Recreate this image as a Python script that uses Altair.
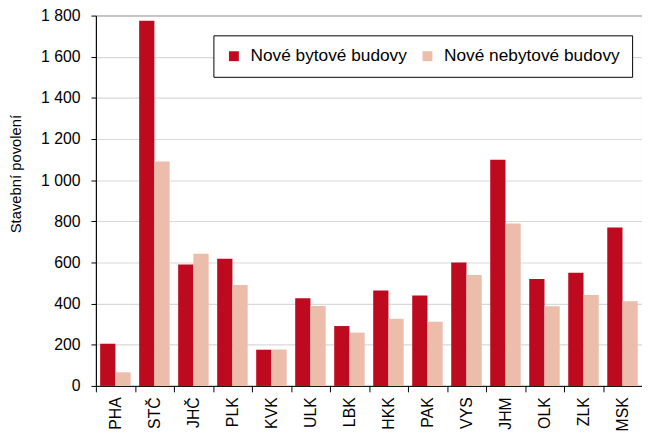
import altair as alt
import pandas as pd

kraje = ["PHA", "STČ", "JHČ", "PLK", "KVK", "ULK", "LBK", "HKK", "PAK", "VYS", "JHM", "OLK", "ZLK", "MSK"]
bytove = [205, 1775, 590, 618, 176, 426, 291, 464, 440, 600, 1099, 520, 550, 770]
nebytove = [66, 1091, 643, 490, 177, 389, 259, 326, 312, 539, 790, 387, 442, 411]
serie = ["Nové bytové budovy", "Nové nebytové budovy"]
barvy = ["#BE0A1E", "#EBBDAA"]
y_ticks = [0, 200, 400, 600, 800, 1000, 1200, 1400, 1600, 1800]

rows = []
for k, b, n in zip(kraje, bytove, nebytove):
    rows.append({"kraj": k, "serie": serie[0], "hodnota": b})
    rows.append({"kraj": k, "serie": serie[1], "hodnota": n})
df = pd.DataFrame(rows)

FONT = "Liberation Sans"

chart = alt.Chart(df).mark_bar().encode(
    x=alt.X(
        "kraj:N",
        sort=kraje,
        scale=alt.Scale(paddingInner=0, paddingOuter=0),
        axis=alt.Axis(
            title=None,
            labelAngle=-90,
            tickBand="extent",
            tickSize=6,
            labelPadding=5,
            labelFontSize=16,
            labelColor="black",
            domainColor="black",
            tickColor="black",
            grid=False,
        ),
    ),
    xOffset=alt.XOffset("serie:N", sort=serie, scale=alt.Scale(paddingInner=0, paddingOuter=0.28)),
    y=alt.Y(
        "hodnota:Q",
        scale=alt.Scale(domain=[0, 1800], nice=False),
        axis=alt.Axis(
            values=y_ticks,
            title="Stavební povolení",
            titleFontSize=15,
            titleFontWeight="normal",
            titleColor="black",
            titleX=-81,
            titleY=160,
            titleAlign="center",
            titleBaseline="middle",
            labelExpr="replace(format(datum.value, ',d'), ',', ' ')",
            labelFontSize=16,
            labelColor="black",
            labelPadding=11,
            tickSize=5,
            tickColor="black",
            domainColor="black",
            gridColor="#D9D9D9",
            gridWidth=1.2,
        ),
    ),
    color=alt.Color(
        "serie:N",
        sort=serie,
        scale=alt.Scale(domain=serie, range=barvy),
        legend=alt.Legend(
            title=None,
            orient="none",
            legendX=119,
            legendY=20,
            direction="horizontal",
            strokeColor="black",
            fillColor="white",
            padding=12,
            symbolType="square",
            symbolSize=100,
            symbolStrokeWidth=0,
            labelFontSize=17.5,
            labelLimit=400,
            labelColor="black",
            labelOffset=8,
            columnPadding=11,
            cornerRadius=0,
        ),
    ),
).properties(
    width=553,
    height=375,
    autosize=alt.AutoSizeParams(type="none"),
    padding={"left": 89, "top": 5, "right": 0, "bottom": 46},
).configure(
    font=FONT,
).configure_view(
    stroke="#404040",
    strokeWidth=1,
)

chart.save("out.html", embed_options={"renderer": "svg", "actions": False})
